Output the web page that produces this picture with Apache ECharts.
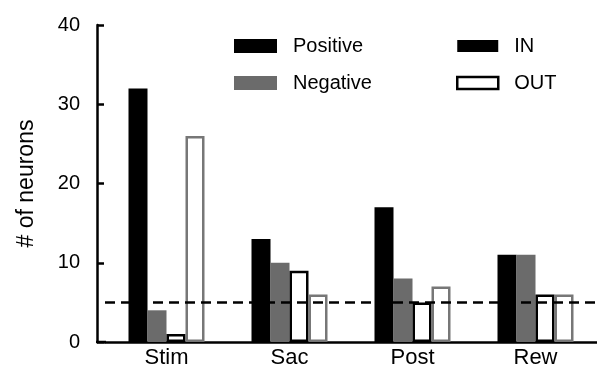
<!DOCTYPE html>
<html>
<head>
<meta charset="utf-8">
<script src="https://cdn.jsdelivr.net/npm/echarts@6/dist/echarts.min.js"></script>
<style>
  html, body { margin: 0; padding: 0; background: #fff; }
  #container { width: 597px; height: 370px; }
</style>
</head>
<body>
<div id="container"></div>
<script>
var categories = ['Stim', 'Sac', 'Post', 'Rew'];
var positiveIn = [32, 13, 17, 11];
var negativeIn = [4, 10, 8, 11];
var positiveOut = [1, 9, 5, 6];
var negativeOut = [26, 6, 7, 6];
var threshold = 5;

var dom = document.getElementById('container');
var myChart = echarts.init(dom, null, { renderer: 'canvas' });

var font = 'Liberation Sans, Arial, sans-serif';
var barW = 19;

var option = {
  backgroundColor: '#fff',
  animation: false,
  grid: { left: 105, right: -5, top: 25, bottom: 28 },
  legend: [
    {
      left: 234, top: 36, orient: 'vertical', padding: 0,
      itemWidth: 43, itemHeight: 14, itemGap: 17,
      selectedMode: false, icon: 'rect',
      textStyle: { fontSize: 20, fontFamily: font, color: '#000', padding: [0, 0, 4, 11] },
      data: [
        { name: 'Positive', itemStyle: { color: '#000', borderWidth: 0 } },
        { name: 'Negative', itemStyle: { color: '#6b6b6b', borderWidth: 0 } }
      ]
    },
    {
      left: 456, top: 36, orient: 'vertical', padding: 0,
      itemWidth: 41, itemHeight: 12, itemGap: 17,
      selectedMode: false, icon: 'rect',
      textStyle: { fontSize: 20, fontFamily: font, color: '#000', padding: [0, 0, 4, 11] },
      data: [
        { name: 'IN', itemStyle: { color: '#000', borderWidth: 0 } },
        { name: 'OUT', itemStyle: { color: '#fff', borderColor: '#000', borderWidth: 2.5 } }
      ]
    }
  ],
  xAxis: {
    type: 'category',
    data: categories,
    axisLine: { lineStyle: { color: '#000', width: 2.5 } },
    axisTick: { show: false },
    axisLabel: { fontSize: 22, fontFamily: font, color: '#000', margin: 5 }
  },
  yAxis: {
    type: 'value',
    min: 0, max: 40, interval: 10,
    offset: 8,
    name: '# of neurons',
    nameLocation: 'middle',
    nameGap: 59,
    nameTextStyle: { fontSize: 23, fontFamily: font, color: '#000' },
    axisLine: { show: true, lineStyle: { color: '#000', width: 2.5 } },
    axisTick: { show: true, inside: true, length: 7, lineStyle: { color: '#000', width: 2.5 } },
    axisLabel: { fontSize: 20, fontFamily: font, color: '#000', margin: 17 },
    splitLine: { show: false }
  },
  graphic: [
    { type: 'line', shape: { x1: 96, y1: 342, x2: 106, y2: 342 }, style: { stroke: '#000', lineWidth: 2.5 } }
  ],
  series: [
    {
      name: 'Positive IN', type: 'bar', data: positiveIn,
      barWidth: barW, barGap: '0%',
      itemStyle: { color: '#000' },
      markLine: {
        symbol: 'none', silent: true,
        label: { show: false },
        lineStyle: { color: '#000', type: [10, 6], width: 2.5 },
        data: [{ yAxis: threshold }]
      }
    },
    {
      name: 'Negative IN', type: 'bar', data: negativeIn,
      barWidth: barW, barGap: '0%',
      itemStyle: { color: '#6b6b6b' }
    },
    {
      name: 'Positive OUT', type: 'bar', data: positiveOut,
      barWidth: barW, barGap: '0%',
      itemStyle: { color: '#fff', borderColor: '#000', borderWidth: 2.5 }
    },
    {
      name: 'Negative OUT', type: 'bar', data: negativeOut,
      barWidth: barW, barGap: '0%',
      itemStyle: { color: '#fff', borderColor: '#777', borderWidth: 2.5 }
    },
    // legend-only entries
    { name: 'Positive', type: 'line', data: [], itemStyle: { color: '#000' } },
    { name: 'Negative', type: 'line', data: [], itemStyle: { color: '#6b6b6b' } },
    { name: 'IN', type: 'line', data: [], itemStyle: { color: '#000' } },
    { name: 'OUT', type: 'line', data: [], itemStyle: { color: '#fff', borderColor: '#000' } }
  ]
};

myChart.setOption(option);
window.addEventListener('resize', myChart.resize);
</script>
</body>
</html>
